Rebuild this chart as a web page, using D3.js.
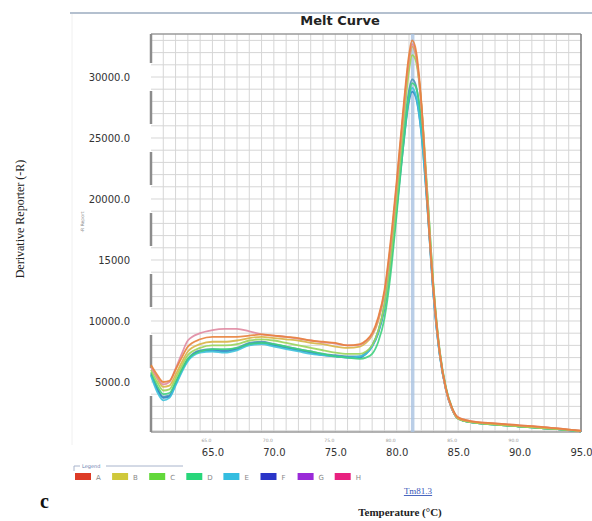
<!DOCTYPE html>
<html>
<head>
<meta charset="utf-8">
<script src="https://cdn.jsdelivr.net/npm/d3@7"></script>
<style>
  html, body { margin: 0; padding: 0; background: #fff; }
  svg { display: block; }
</style>
</head>
<body>
<div id="chart"></div>
<script>
// temperatures shared by every well
const temps = [60, 60.5, 61, 61.5, 62, 62.5, 63, 64, 65, 66, 67, 68, 69, 70, 71, 72, 73, 74, 75, 76, 77,
  77.5, 78, 78.5, 79, 79.5, 80, 80.5, 81, 81.25, 81.5, 82, 82.5, 83, 83.5, 84, 84.5, 85, 86, 88, 90, 92, 94, 95];

// derivative reporter values per well
const wellA = [6400, 5600, 5000, 5100, 6000, 7000, 7900, 8500, 8700, 8700, 8700, 8800, 8900, 8800, 8700, 8600, 8400, 8300, 8200, 8000, 8100,
  8400, 9000, 10300, 12500, 16500, 21500, 27000, 31800, 33000, 32500, 28000, 19500, 12500, 7400, 4500, 2900, 2100, 1800, 1600, 1450, 1300, 1100, 1000];
const wellB = [6300, 5300, 4600, 4700, 5600, 6600, 7500, 8100, 8300, 8300, 8400, 8600, 8700, 8600, 8500, 8400, 8200, 8100, 7900, 7800, 7900,
  8200, 8800, 10000, 12200, 16000, 21000, 26500, 31200, 32500, 32000, 27800, 20000, 12500, 7400, 4400, 2800, 2000, 1750, 1550, 1400, 1250, 1100, 1000];
const wellC = [6000, 5000, 4300, 4400, 5300, 6300, 7200, 7800, 8000, 8000, 8100, 8400, 8500, 8400, 8200, 8000, 7800, 7600, 7400, 7300, 7300,
  7500, 8000, 9200, 11300, 15000, 20000, 25500, 30500, 31800, 31500, 27800, 20500, 12700, 7500, 4500, 2800, 2000, 1700, 1500, 1350, 1200, 1050, 950];
const wellD = [5800, 4700, 4000, 4100, 5000, 6000, 6900, 7500, 7700, 7700, 7800, 8100, 8200, 8100, 7900, 7700, 7500, 7300, 7100, 7000, 6900,
  7000, 7300, 8300, 10200, 13800, 18800, 24000, 28400, 29500, 29300, 26500, 20300, 12800, 7600, 4600, 2900, 2000, 1700, 1500, 1350, 1200, 1050, 950];
const wellE = [5500, 4200, 3500, 3700, 4700, 5800, 6700, 7400, 7500, 7400, 7600, 8000, 8100, 7900, 7700, 7500, 7300, 7200, 7100, 7000, 7100,
  7300, 7900, 9100, 11200, 14800, 19500, 24300, 28300, 29100, 28700, 25500, 19300, 12000, 7200, 4400, 2800, 2000, 1700, 1500, 1350, 1200, 1050, 950];
const wellF = [5600, 4400, 3700, 3800, 4800, 5900, 6800, 7500, 7600, 7500, 7700, 8100, 8200, 8000, 7800, 7600, 7400, 7200, 7100, 7000, 7000,
  7300, 7900, 9000, 11000, 14500, 19200, 24000, 28000, 28800, 28500, 25400, 19200, 12000, 7200, 4400, 2800, 2000, 1700, 1500, 1350, 1200, 1050, 950];
const wellG = [5700, 4500, 3800, 3900, 4900, 6000, 6900, 7600, 7700, 7600, 7800, 8200, 8300, 8100, 7900, 7700, 7500, 7300, 7200, 7100, 7100,
  7400, 8000, 9200, 11300, 15000, 19800, 24800, 28900, 29800, 29500, 26200, 19600, 12200, 7300, 4400, 2800, 2000, 1700, 1500, 1350, 1200, 1050, 950];
const wellH = [6200, 5400, 4800, 5000, 6100, 7300, 8400, 9000, 9250, 9350, 9350, 9150, 8900, 8800, 8700, 8550, 8400, 8250, 8150, 8000, 8050,
  8350, 8900, 10200, 12300, 16200, 21200, 26700, 31500, 32700, 32200, 27700, 19800, 12300, 7400, 4400, 2800, 2100, 1800, 1600, 1450, 1300, 1100, 1000];

const wellNames = ['A', 'B', 'C', 'D', 'E', 'F', 'G', 'H'];
const wellValues = [wellA, wellB, wellC, wellD, wellE, wellF, wellG, wellH];
const legendColors = ['#dd3b26', '#cfc83a', '#62d83a', '#28d67a', '#34bde0', '#2a35c8', '#9a2ad8', '#e8217f'];
const lineColors = ['#e8823c', '#d8b445', '#9ad45a', '#3fd27e', '#3fc2da', '#2f86c4', '#4b96b6', '#e08aa2'];

const yTicks = [5000, 10000, 15000, 20000, 25000, 30000];
const yTickLabels = ['5000.0', '10000.0', '15000', '20000.0', '25000.0', '30000.0'];
const xTicks = [65, 70, 75, 80, 85, 90, 95];
const xTickLabels = ['65.0', '70.0', '75.0', '80.0', '85.0', '90.0', '95.0'];
const tmValue = 81.3;

const width = 592;
const height = 521;
const plot = { left: 151, right: 581, top: 34, bottom: 432 };

const svg = d3.select('#chart').append('svg')
  .attr('width', width)
  .attr('height', height)
;

const xScale = d3.scaleLinear().domain([60, 95]).range([plot.left, plot.right]);
const yScale = d3.scaleLinear().domain([900, 33525]).range([plot.bottom, plot.top]);

// frame lines around the chart panel
svg.append('line')
  .attr('x1', 70).attr('x2', width).attr('y1', 13).attr('y2', 13)
  .attr('stroke', '#b4c0cf').attr('stroke-width', 2)
;
svg.append('line')
  .attr('x1', 72).attr('x2', 72).attr('y1', 14).attr('y2', 445)
  .attr('stroke', '#f0f0f0')
;

svg.append('text')
  .attr('x', 340).attr('y', 25)
  .attr('text-anchor', 'middle')
  .attr('font-family', 'DejaVu Sans, sans-serif')
  .attr('font-weight', 'bold')
  .attr('font-size', '13px')
  .attr('fill', '#222')
  .text('Melt Curve')
;

// grid, one line per degree and per 1000
const grid = svg.append('g');
grid.selectAll('line.v')
  .data(d3.range(61, 95))
  .join('line')
  .attr('x1', d => xScale(d)).attr('x2', d => xScale(d))
  .attr('y1', plot.top).attr('y2', plot.bottom)
  .attr('stroke', '#d6d6d6')
;
grid.selectAll('line.h')
  .data(d3.range(1000, 34000, 1000))
  .join('line')
  .attr('x1', plot.left).attr('x2', plot.right)
  .attr('y1', d => yScale(d)).attr('y2', d => yScale(d))
  .attr('stroke', '#d6d6d6')
;

// plot border
svg.append('line')
  .attr('x1', plot.left).attr('x2', plot.right).attr('y1', plot.top).attr('y2', plot.top)
  .attr('stroke', '#9a9a9a').attr('stroke-width', 1.5)
;
svg.append('line')
  .attr('x1', plot.left).attr('x2', plot.right).attr('y1', plot.bottom).attr('y2', plot.bottom)
  .attr('stroke', '#9a9a9a').attr('stroke-width', 1.5)
;
svg.append('line')
  .attr('x1', plot.right).attr('x2', plot.right).attr('y1', plot.top).attr('y2', plot.bottom)
  .attr('stroke', '#777').attr('stroke-width', 1.5)
;

// left edge drawn in pieces, broken around each label
const edges = [plot.top].concat(yTicks.slice().reverse().map(yScale)).concat([plot.bottom]);
for (let i = 0; i < edges.length - 1; i++) {
  const y1 = i === 0 ? edges[i] : edges[i] + 14;
  const y2 = i === edges.length - 2 ? edges[i + 1] : edges[i + 1] - 14;
  svg.append('line')
    .attr('x1', plot.left).attr('x2', plot.left).attr('y1', y1).attr('y2', y2)
    .attr('stroke', '#8c8c8c').attr('stroke-width', 2.5)
  ;
}

// Tm marker
svg.append('line')
  .attr('x1', xScale(tmValue)).attr('x2', xScale(tmValue))
  .attr('y1', plot.top).attr('y2', plot.bottom)
  .attr('stroke', '#a9c3e2').attr('stroke-width', 3.5).attr('opacity', 0.8)
;

// melt curves
const drawLine = d3.line()
  .x((d, i) => xScale(temps[i]))
  .y(d => yScale(d))
  .curve(d3.curveMonotoneX)
;
const order = [6, 5, 4, 3, 2, 1, 7, 0];
order.forEach((k) => {
  svg.append('path')
    .datum(wellValues[k])
    .attr('fill', 'none')
    .attr('stroke', lineColors[k])
    .attr('stroke-width', 1.8)
    .attr('stroke-opacity', 0.9)
    .attr('stroke-linejoin', 'round')
    .attr('d', drawLine)
  ;
});

// y axis labels
const yAxis = svg.append('g')
  .attr('transform', `translate(${plot.left},0)`)
  .call(d3.axisLeft(yScale).tickValues(yTicks).tickFormat((d, i) => yTickLabels[i]).tickSize(0).tickPadding(21))
;
yAxis.select('.domain').remove();
yAxis.selectAll('text')
  .attr('font-family', 'DejaVu Sans, sans-serif')
  .attr('font-size', '10px')
  .attr('fill', '#333')
;

// x axis labels
const xAxis = svg.append('g')
  .attr('transform', `translate(0,${plot.bottom})`)
  .call(d3.axisBottom(xScale).tickValues(xTicks).tickFormat((d, i) => xTickLabels[i]).tickSize(0).tickPadding(17))
;
xAxis.select('.domain').remove();
xAxis.selectAll('text')
  .attr('font-family', 'DejaVu Sans, sans-serif')
  .attr('font-size', '10px')
  .attr('fill', '#333')
;

// faint small labels just under the plot
svg.append('g').selectAll('text')
  .data(xTicks.slice(0, 6))
  .join('text')
  .attr('x', d => xScale(d) - 6)
  .attr('y', 442)
  .attr('text-anchor', 'middle')
  .attr('font-family', 'DejaVu Sans, sans-serif')
  .attr('font-size', '4.5px')
  .attr('fill', '#999')
  .text((d, i) => xTickLabels[i])
;

// axis titles
svg.append('text')
  .attr('transform', 'translate(24,219) rotate(-90)')
  .attr('text-anchor', 'middle')
  .attr('font-family', 'Liberation Serif, serif')
  .attr('font-size', '12px')
  .attr('fill', '#222')
  .text('Derivative Reporter (-R)')
;
svg.append('text')
  .attr('transform', 'translate(84,222) rotate(-90)')
  .attr('text-anchor', 'middle')
  .attr('font-family', 'DejaVu Sans, sans-serif')
  .attr('font-size', '4.5px')
  .attr('fill', '#888')
  .text('-R Report')
;
svg.append('text')
  .attr('x', 400).attr('y', 516)
  .attr('text-anchor', 'middle')
  .attr('font-family', 'Liberation Serif, serif')
  .attr('font-weight', 'bold')
  .attr('font-size', '11px')
  .attr('fill', '#222')
  .text('Temperature (°C)')
;
svg.append('text')
  .attr('x', 418).attr('y', 494)
  .attr('text-anchor', 'middle')
  .attr('font-family', 'Liberation Serif, serif')
  .attr('font-size', '9px')
  .attr('fill', '#3656b8')
  .attr('text-decoration', 'underline')
  .text(`Tm${tmValue.toFixed(1)}`)
;
svg.append('text')
  .attr('x', 40).attr('y', 508)
  .attr('font-family', 'Liberation Serif, serif')
  .attr('font-weight', 'bold')
  .attr('font-size', '20px')
  .attr('fill', '#111')
  .text('c')
;

// legend
const legend = svg.append('g');
legend.append('path')
  .attr('d', 'M74,471 V466 H80 M106,466 H183')
  .attr('fill', 'none')
  .attr('stroke', '#a8b4cc')
;
legend.append('text')
  .attr('x', 82).attr('y', 468)
  .attr('font-family', 'DejaVu Sans, sans-serif')
  .attr('font-size', '5px')
  .attr('fill', '#6a7fb0')
  .text('Legend')
;
const items = legend.selectAll('g.item')
  .data(wellNames)
  .join('g')
  .attr('transform', (d, i) => `translate(${75 + i * 37.1},473)`)
;
items.append('rect')
  .attr('width', 16).attr('height', 7)
  .attr('fill', (d, i) => legendColors[i])
;
items.append('text')
  .attr('x', 21).attr('y', 7)
  .attr('font-family', 'DejaVu Sans, sans-serif')
  .attr('font-size', '7px')
  .attr('fill', '#888')
  .text(d => d)
;
</script>
</body>
</html>
